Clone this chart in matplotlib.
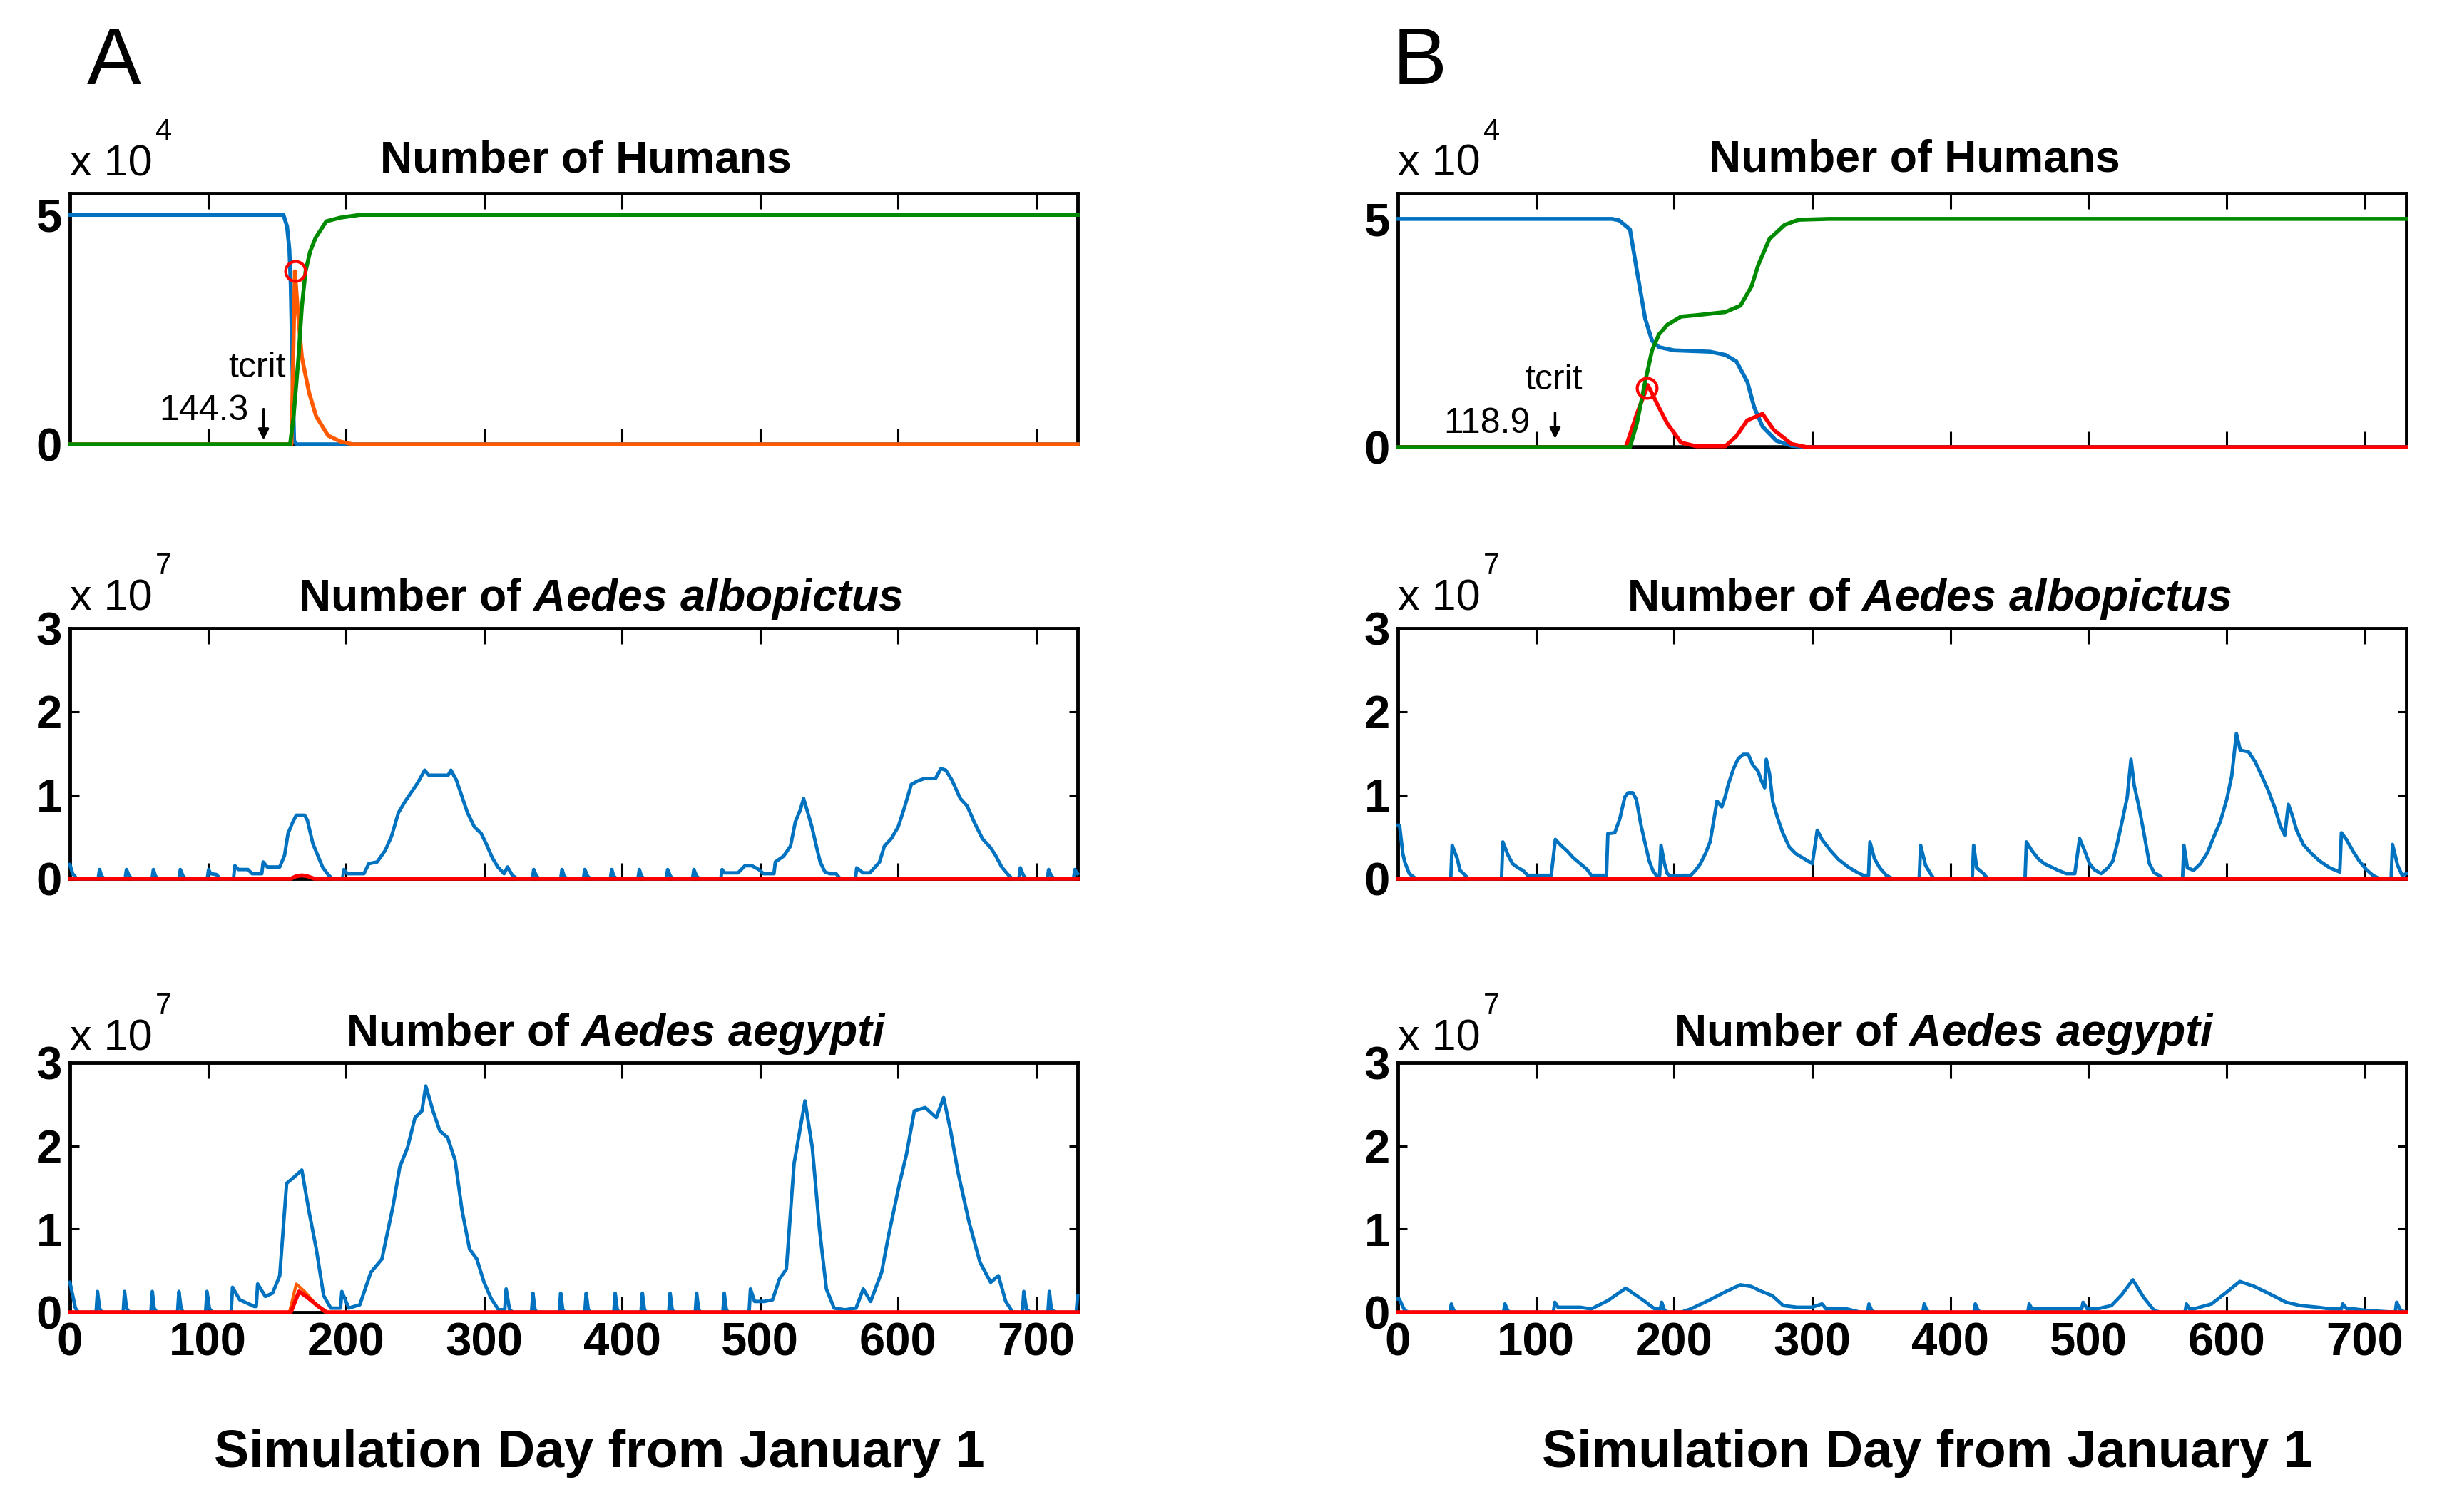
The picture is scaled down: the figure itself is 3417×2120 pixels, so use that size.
import matplotlib
matplotlib.use("Agg")
import matplotlib.pyplot as plt

# ---------------- data (humans in 1e4, mosquitoes in 1e7) ----------------
days_max = 730
x_ticks = [0, 100, 200, 300, 400, 500, 600, 700]
human_ticks = [0, 5]
mosq_ticks = [0, 1, 2, 3]
tcrit_a = 144.3
tcrit_b = 118.9

# panel A, humans
a_sus_days = [0, 154.7, 157.3, 159, 160, 161, 162.4, 164, 730]
a_sus_vals = [5, 5, 4.75, 4.24, 3.46, 1.9, 0.08, 0, 0]
a_inf_days = [0, 160.5, 161.5, 163, 165, 168, 173.3, 178.4, 187, 196, 205, 730]
a_inf_vals = [0, 0, 1.5, 3.77, 2.94, 1.9, 1.12, 0.61, 0.19, 0.06, 0, 0]
a_rec_days = [0, 159.5, 162, 165.6, 168, 170.7, 174, 178, 185.7, 196, 210, 730]
a_rec_vals = [0, 0, 0.6, 1.9, 3.0, 3.77, 4.2, 4.5, 4.86, 4.94, 5, 5]
a_peak = (163, 3.77)

# panel B, humans
b_sus_days = [0, 155, 160, 168, 173, 179, 184, 189, 200, 226, 237, 245, 253, 258, 264, 274, 285, 296, 730]
b_sus_vals = [5, 5, 4.97, 4.77, 3.87, 2.82, 2.33, 2.19, 2.12, 2.09, 2.02, 1.88, 1.43, 0.87, 0.45, 0.14, 0.03, 0, 0]
b_rec_days = [0, 168, 173, 179, 184, 189, 195, 205, 216, 237, 248, 256, 261, 269, 280, 290, 312, 730]
b_rec_vals = [0, 0, 0.52, 1.43, 2.12, 2.47, 2.68, 2.86, 2.89, 2.96, 3.1, 3.52, 4.0, 4.56, 4.87, 4.98, 5, 5]
b_inf_days = [0, 165, 173, 181, 189, 195, 205, 216, 237, 245, 253, 264, 272, 285, 296, 730]
b_inf_vals = [0, 0, 0.73, 1.36, 0.87, 0.52, 0.10, 0.02, 0.02, 0.24, 0.59, 0.73, 0.38, 0.07, 0, 0]
b_other_days = [0, 730]
b_other_vals = [0, 0]
b_peak = (180, 1.3)

# panel A, Aedes albopictus
a_albo_days = [0, 2, 5, 20.5, 21.5, 23, 25, 40, 41, 43, 45, 59.5, 60.5, 62, 64, 79, 80, 82, 84,
               99.5, 100.5, 102, 106, 109, 118.5, 119.5, 122, 129, 132, 139, 140, 143, 152,
               155.5, 158, 161.5, 164, 170, 172, 176, 179.5, 183, 186.5, 190, 197.5, 198.5, 201,
               213, 216.5, 222.5, 228.5, 233, 238, 243, 247.5, 252, 257, 260, 274, 276, 280,
               283.5, 288, 293, 298, 301.5, 306, 310, 314.5, 317, 320.5, 324,
               335, 336, 338, 340, 355.5, 356.5, 358, 360, 372, 373, 375, 377,
               391.5, 392.5, 394, 396, 411.5, 412.5, 414, 416, 432, 433, 435, 437,
               451, 452, 454, 456, 471.5, 472.5, 474, 484, 489, 494, 499, 502.5, 510, 511,
               517, 522, 525.5, 529, 531.5, 534, 537.5, 541, 543.5, 547, 550.5, 555, 558,
               569, 570, 574.5, 579.5, 586.5, 590, 595, 600, 604.5, 609.5, 614, 619, 627,
               631, 634.5, 639, 645, 650, 655, 661, 667, 670.5, 675, 679, 682.5,
               687.5, 688.5, 691, 693, 708, 709, 711, 713, 727, 728, 730]
a_albo_vals = [0.17, 0.06, 0, 0, 0.11, 0.03, 0, 0, 0.11, 0.03, 0, 0, 0.11, 0.03, 0, 0, 0.11, 0.03, 0,
               0, 0.11, 0.06, 0.05, 0, 0, 0.155, 0.11, 0.11, 0.06, 0.06, 0.2, 0.14, 0.14,
               0.28, 0.54, 0.68, 0.76, 0.76, 0.70, 0.42, 0.28, 0.14, 0.06, 0, 0, 0.11, 0.06,
               0.06, 0.18, 0.2, 0.34, 0.51, 0.79, 0.93, 1.04, 1.15, 1.3, 1.24, 1.24, 1.3, 1.18,
               1.01, 0.79, 0.62, 0.54, 0.42, 0.25, 0.14, 0.06, 0.14, 0.04, 0,
               0, 0.11, 0.03, 0, 0, 0.11, 0.03, 0, 0, 0.11, 0.03, 0,
               0, 0.11, 0.03, 0, 0, 0.11, 0.03, 0, 0, 0.11, 0.03, 0,
               0, 0.11, 0.03, 0, 0, 0.11, 0.07, 0.07, 0.155, 0.155, 0.11, 0.06, 0.06, 0.2,
               0.27, 0.39, 0.68, 0.82, 0.96, 0.82, 0.62, 0.37, 0.2, 0.08, 0.06, 0.06, 0,
               0, 0.13, 0.07, 0.07, 0.2, 0.39, 0.48, 0.62, 0.85, 1.13, 1.17, 1.2, 1.2,
               1.32, 1.3, 1.18, 0.96, 0.87, 0.68, 0.48, 0.37, 0.28, 0.14, 0.06, 0,
               0, 0.13, 0.03, 0, 0, 0.11, 0.03, 0, 0, 0.11, 0.06]
a_albo_inf_days = [0, 160, 164, 168, 172, 177, 730]
a_albo_inf_vals = [0, 0, 0.03, 0.04, 0.03, 0, 0]

# panel B, Aedes albopictus
b_albo_days = [0, 1.2, 3.6, 5, 8.3, 10.7, 13, 38.3, 39.3, 43, 45, 48.8, 51, 75, 76, 79.8, 83, 87,
               90.5, 94, 111, 114, 118, 122.6, 127, 132, 137, 140, 151, 152, 157, 160.7, 164.3,
               166.7, 170, 172.6, 176, 180, 182, 184.5, 187, 189.5, 190.5, 193, 195, 197.6, 206,
               212, 215.5, 219, 222.6, 226, 228.6, 231, 234.5, 236.9, 239, 243, 246.4, 250,
               253.6, 257, 260.7, 263, 265.5, 266.7, 269, 271.4, 275, 278.6, 283.3, 288, 294,
               300, 303.6, 307, 313, 319, 326, 332, 337, 340.7, 341.7, 345, 348.8, 353.6, 358,
               377.4, 378.4, 382, 385.6, 388, 415.8, 416.8, 419, 424, 427,
               454, 455, 458.8, 463.5, 468, 473, 478, 484, 490, 493.5, 497, 500.7, 504, 509,
               514, 517.5, 521, 524.7, 528, 530.7, 533, 536.7, 540, 544, 547.5, 551, 554,
               568, 569, 571.5, 576, 581, 586, 590.6, 595.5, 600, 603.6, 607, 609.8, 615.8,
               620.6, 625.4, 630, 635, 638.6, 642, 644.6, 647, 650.6, 655.4, 661.4, 667.4,
               674.6, 681.8, 683, 686.6, 691.4, 696, 701, 705.8, 710.5, 719, 720, 723.7, 727, 730]
b_albo_vals = [0.64, 0.64, 0.3, 0.2, 0.06, 0.03, 0, 0, 0.4, 0.24, 0.1, 0.04, 0, 0, 0.44, 0.28, 0.18, 0.13,
               0.1, 0.04, 0.04, 0.47, 0.4, 0.33, 0.25, 0.18, 0.11, 0.04, 0.04, 0.54, 0.55, 0.72, 0.98,
               1.03, 1.03, 0.95, 0.64, 0.35, 0.21, 0.1, 0.04, 0.04, 0.4, 0.18, 0.06, 0.03, 0.04,
               0.04, 0.1, 0.18, 0.3, 0.44, 0.69, 0.93, 0.86, 0.98, 1.12, 1.32, 1.44, 1.49,
               1.49, 1.36, 1.29, 1.18, 1.09, 1.43, 1.26, 0.92, 0.72, 0.55, 0.38, 0.3, 0.24,
               0.18, 0.58, 0.47, 0.34, 0.23, 0.14, 0.08, 0.04, 0.04, 0.44, 0.24, 0.13, 0.04, 0,
               0, 0.4, 0.16, 0.06, 0, 0, 0.4, 0.13, 0.06, 0,
               0, 0.44, 0.34, 0.24, 0.18, 0.14, 0.1, 0.06, 0.06, 0.48, 0.34, 0.18, 0.11, 0.06,
               0.13, 0.21, 0.44, 0.72, 0.98, 1.43, 1.12, 0.84, 0.55, 0.18, 0.07, 0.04, 0,
               0, 0.4, 0.13, 0.1, 0.18, 0.31, 0.5, 0.69, 0.95, 1.23, 1.74, 1.54, 1.52,
               1.4, 1.23, 1.06, 0.84, 0.64, 0.52, 0.89, 0.78, 0.58, 0.41, 0.3, 0.21,
               0.13, 0.08, 0.55, 0.47, 0.33, 0.21, 0.11, 0.04, 0, 0, 0.41, 0.16, 0.04, 0.06]
b_albo_inf_days = [0, 730]
b_albo_inf_vals = [0, 0]

# panel A, Aedes aegypti
a_aeg_days = [0, 4, 6, 19, 20, 21.5, 23, 38.6, 39.6, 41, 43, 58.7, 59.7, 61, 63, 78, 79, 80.5, 82,
              98.3, 99.3, 101, 103, 116.8, 117.8, 123, 133.6, 135, 136, 141.6, 146.8, 152, 157,
              162.7, 168, 173, 178.5, 183.8, 189, 196, 197, 202, 210, 218, 226, 234, 239, 244.6,
              250, 255, 257.8, 263, 268, 273.6, 279, 284, 289.5, 294.8, 300, 305, 310.5, 315,
              316, 318.5, 321, 334.4, 335.4, 336.9, 338.4, 354.5, 355.5, 357, 358.5,
              373, 374, 375.5, 377, 394, 395, 396.5, 398, 413.7, 414.7, 416.2, 417.7,
              433.8, 434.8, 436.3, 437.8, 453, 454, 455.5, 457, 473, 474, 475.5, 477,
              492, 493, 496, 503, 509, 514, 519, 524.6, 532.5, 537.8, 543, 548, 553.6, 561.5,
              569.5, 574.7, 580, 588, 593, 601, 606, 611.7, 619.6, 627.6, 632.9, 638, 643.5,
              651.4, 659.3, 667, 672.6, 677.9, 683, 690, 691, 693, 696, 708.5, 709.5, 711, 714,
              729, 730]
a_aeg_vals = [0.36, 0.05, 0, 0, 0.25, 0.05, 0, 0, 0.25, 0.05, 0, 0, 0.25, 0.05, 0, 0, 0.25, 0.05, 0,
              0, 0.25, 0.05, 0, 0, 0.3, 0.15, 0.07, 0.07, 0.34, 0.19, 0.23, 0.44, 1.55,
              1.63, 1.71, 1.23, 0.76, 0.2, 0.05, 0.05, 0.25, 0.05, 0.09, 0.48, 0.64, 1.27, 1.75, 1.98,
              2.34, 2.42, 2.72, 2.42, 2.18, 2.1, 1.83, 1.23, 0.76, 0.64, 0.36, 0.17, 0.03, 0.03,
              0.28, 0.03, 0, 0, 0.23, 0.03, 0, 0, 0.23, 0.03, 0,
              0, 0.23, 0.03, 0, 0, 0.23, 0.03, 0, 0, 0.23, 0.03, 0,
              0, 0.23, 0.03, 0, 0, 0.23, 0.03, 0, 0, 0.23, 0.03, 0,
              0, 0.28, 0.13, 0.13, 0.15, 0.4, 0.52, 1.79, 2.54, 1.98, 1.0, 0.28, 0.05, 0.03,
              0.05, 0.28, 0.13, 0.48, 0.92, 1.55, 1.9, 2.42, 2.46, 2.34, 2.58, 2.18, 1.67,
              1.08, 0.6, 0.36, 0.44, 0.13, 0, 0, 0.25, 0.03, 0, 0, 0.25, 0.03, 0,
              0, 0.2]
a_aeg_exp_days = [0, 159, 164, 170, 178, 185, 730]
a_aeg_exp_vals = [0, 0, 0.34, 0.25, 0.1, 0, 0]
a_aeg_inf_days = [0, 160, 166, 172, 180, 186, 730]
a_aeg_inf_vals = [0, 0, 0.25, 0.18, 0.07, 0, 0]

# panel B, Aedes aegypti
b_aeg_days = [0, 1, 5, 8, 37.7, 38.7, 40.5, 42, 76.5, 77.5, 79.5, 81, 112.6, 113.6, 116, 132, 140,
              152, 165, 178, 186, 190, 191, 193, 196, 205, 212, 224.7, 237.6, 248, 255.7, 263.4,
              271, 279, 289, 299.6, 307, 310, 325, 335, 340, 341, 343, 345, 380, 381, 383, 385,
              417, 418, 420, 422, 456, 457, 459, 475, 490, 495, 496, 499, 506, 516.5, 524, 532,
              539.8, 547.5, 552, 569.8, 570.8, 573, 576, 589, 599, 609.5, 620, 630, 643, 653.5,
              666, 675, 683, 684, 687, 692, 702.5, 722, 723, 726, 730]
b_aeg_vals = [0.16, 0.16, 0.02, 0, 0, 0.1, 0.02, 0, 0, 0.1, 0.02, 0, 0, 0.12, 0.06, 0.06, 0.04,
              0.14, 0.29, 0.14, 0.04, 0.04, 0.12, 0.02, 0, 0, 0.04, 0.14, 0.25, 0.33, 0.31, 0.25,
              0.2, 0.08, 0.06, 0.06, 0.1, 0.04, 0.04, 0, 0, 0.1, 0.02, 0, 0, 0.1, 0.02, 0,
              0, 0.1, 0.02, 0, 0, 0.1, 0.04, 0.04, 0.04, 0.04, 0.12, 0.04, 0.04, 0.08, 0.21, 0.39,
              0.18, 0.02, 0, 0, 0.1, 0.04, 0.04, 0.1, 0.23, 0.37, 0.31, 0.23, 0.12, 0.08,
              0.06, 0.04, 0.04, 0.1, 0.04, 0.04, 0.02, 0, 0.12, 0.02, 0]
b_aeg_inf_days = [0, 730]
b_aeg_inf_vals = [0, 0]

# ---------------- colours ----------------
BLUE = "#0072C0"
GREEN = "#008A00"
ORANGE = "#FF5A00"
RED = "#FF0000"

plt.rcParams["font.family"] = ["Liberation Sans", "DejaVu Sans"]
plt.rcParams["mathtext.fontset"] = "custom"
plt.rcParams["mathtext.rm"] = "Liberation Sans:bold"
plt.rcParams["mathtext.it"] = "Liberation Sans:italic:bold"
plt.rcParams["mathtext.bf"] = "Liberation Sans:bold"

W, H = 3417, 2120
fig = plt.figure(figsize=(W / 100, H / 100), dpi=100)


def make_axes(left, top, right, bottom):
    return fig.add_axes([left / W, 1 - bottom / H, (right - left) / W, (bottom - top) / H])


def style_axes(ax, ymax, yticks, show_x):
    ax.set_xlim(0, days_max)
    ax.set_ylim(0, ymax)
    ax.set_xticks(x_ticks)
    ax.set_yticks(yticks)
    ax.set_yticklabels([str(t) for t in yticks], fontsize=47, fontweight="bold")
    if show_x:
        ax.set_xticklabels([str(t) for t in x_ticks], fontsize=47, fontweight="bold")
    else:
        ax.set_xticklabels([])
    ax.tick_params(axis="x", direction="in", top=True, length=16, width=2.2, pad=10)
    ax.tick_params(axis="y", direction="in", right=True, length=9, width=2.2, pad=8)
    for sp in ax.spines.values():
        sp.set_linewidth(3.5)


def scale_label(ax, exponent, ypos):
    t = ax.text(0, ypos, "x 10", transform=ax.transAxes, fontsize=44,
                ha="left", va="baseline")
    ax.annotate(exponent, xy=(1, 1), xycoords=t, xytext=(3, -2),
                textcoords="offset points", fontsize=30, ha="left", va="bottom")


def panel_title(ax, text, xfrac, ypos):
    ax.text(xfrac, ypos, text, transform=ax.transAxes, fontsize=45,
            fontweight="bold", ha="center", va="baseline")


def line(ax, x, y, color, lw=3.5):
    ax.plot(x, y, color=color, lw=lw, clip_on=False, zorder=3, solid_joinstyle="round")


cols = {"A": (98, 1511), "B": (1960, 3374)}
albo_title = r"Number of $\mathit{Aedes\ albopictus}$"
aeg_title = r"Number of $\mathit{Aedes\ aegypti}$"

# ---------- humans ----------
ax = make_axes(cols["A"][0], 271, cols["A"][1], 623)
line(ax, a_sus_days, a_sus_vals, BLUE, 4)
line(ax, a_inf_days, a_inf_vals, ORANGE, 4)
line(ax, a_rec_days, a_rec_vals, GREEN, 4)
ax.plot(*a_peak, "o", mfc="none", mec=RED, ms=20, mew=3, zorder=4, clip_on=False)
style_axes(ax, 5.47, human_ticks, False)
scale_label(ax, "4", 1.071)
panel_title(ax, "Number of Humans", 0.512, 1.085)
ax.text(156.3, 1.46, "tcrit", fontsize=36, ha="right", va="baseline")
ax.text(129.4, 0.53, f"{tcrit_a}", fontsize=36, ha="right", va="baseline")
ax.annotate("", xy=(140.3, 0.05), xytext=(140.3, 0.81),
            arrowprops=dict(arrowstyle="-|>", color="k", lw=2.5, mutation_scale=22))

ax = make_axes(cols["B"][0], 271, cols["B"][1], 627)
line(ax, b_other_days, b_other_vals, "k", 4)
line(ax, b_sus_days, b_sus_vals, BLUE, 4)
line(ax, b_inf_days, b_inf_vals, RED, 4)
line(ax, b_rec_days, b_rec_vals, GREEN, 4)
ax.plot(*b_peak, "o", mfc="none", mec=RED, ms=20, mew=3, zorder=4, clip_on=False)
style_axes(ax, 5.56, human_ticks, False)
scale_label(ax, "4", 1.071)
panel_title(ax, "Number of Humans", 0.512, 1.085)
ax.text(133.6, 1.27, "tcrit", fontsize=36, ha="right", va="baseline")
ax.text(96, 0.31, f"{tcrit_b}", fontsize=36, ha="right", va="baseline")
ax.annotate("", xy=(113.8, 0.14), xytext=(113.8, 0.8),
            arrowprops=dict(arrowstyle="-|>", color="k", lw=2.5, mutation_scale=22))

# ---------- Aedes albopictus ----------
ax = make_axes(cols["A"][0], 881, cols["A"][1], 1232)
line(ax, a_albo_days, a_albo_vals, BLUE)
line(ax, a_albo_inf_days, a_albo_inf_vals, RED, 4)
style_axes(ax, 3, mosq_ticks, False)
scale_label(ax, "7", 1.074)
panel_title(ax, albo_title, 0.527, 1.071)

ax = make_axes(cols["B"][0], 881, cols["B"][1], 1232)
line(ax, b_albo_days, b_albo_vals, BLUE)
line(ax, b_albo_inf_days, b_albo_inf_vals, RED, 4)
style_axes(ax, 3, mosq_ticks, False)
scale_label(ax, "7", 1.074)
panel_title(ax, albo_title, 0.527, 1.071)

# ---------- Aedes aegypti ----------
ax = make_axes(cols["A"][0], 1490, cols["A"][1], 1840)
line(ax, a_aeg_days, a_aeg_vals, BLUE)
line(ax, a_aeg_exp_days, a_aeg_exp_vals, ORANGE, 3)
line(ax, a_aeg_inf_days, a_aeg_inf_vals, RED, 4)
style_axes(ax, 3, mosq_ticks, True)
scale_label(ax, "7", 1.05)
panel_title(ax, aeg_title, 0.542, 1.069)
ax.text(0.525, -0.62, "Simulation Day from January 1", transform=ax.transAxes,
        fontsize=53, fontweight="bold", ha="center", va="baseline")

ax = make_axes(cols["B"][0], 1490, cols["B"][1], 1840)
line(ax, b_aeg_days, b_aeg_vals, BLUE)
line(ax, b_aeg_inf_days, b_aeg_inf_vals, RED, 4)
style_axes(ax, 3, mosq_ticks, True)
scale_label(ax, "7", 1.05)
panel_title(ax, aeg_title, 0.542, 1.069)
ax.text(0.525, -0.62, "Simulation Day from January 1", transform=ax.transAxes,
        fontsize=53, fontweight="bold", ha="center", va="baseline")

# panel letters
fig.text(122 / W, 1 - 118 / H, "A", fontsize=82, ha="left", va="baseline")
fig.text(1953 / W, 1 - 118 / H, "B", fontsize=82, ha="left", va="baseline")

fig.savefig("out.png", dpi=100)
